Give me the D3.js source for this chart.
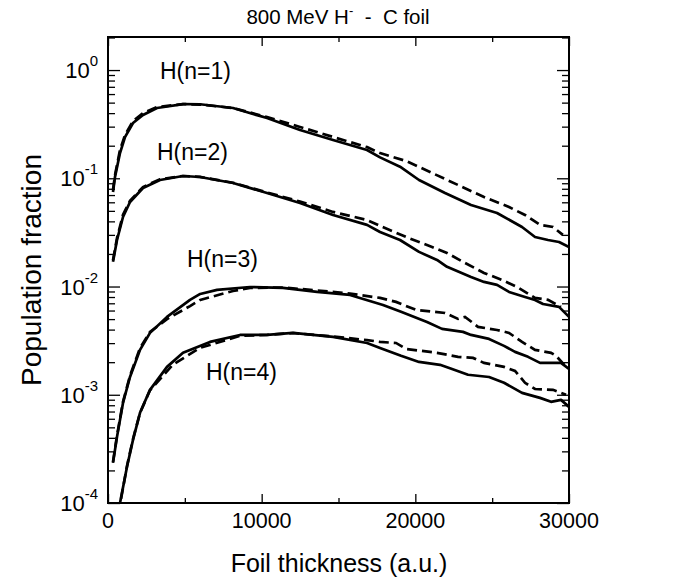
<!DOCTYPE html>
<html><head><meta charset="utf-8">
<script src="https://cdn.jsdelivr.net/npm/d3@7"></script>
<style>
body{margin:0;background:#fff;}
text{font-family:"Liberation Sans",Arial,sans-serif;fill:#000;}
</style></head>
<body><svg id="c" width="684" height="582"></svg>
<script>
// ---- data (thickness in a.u., population fraction) ----
const n1Solid = [[325,0.0747],[456,0.103],[781,0.171],[1106,0.240],[1627,0.324],[2278,0.384],[3189,0.446],[4881,0.485],[5987,0.483],[8135,0.446],[10348,0.360],[12495,0.279],[14643,0.226],[16856,0.1825],[17702,0.156],[19003,0.128],[20240,0.0964],[21932,0.0731],[23624,0.0567],[25316,0.0478],[26943,0.0355],[27789,0.0287],[28635,0.0269],[29351,0.0258],[30000,0.0232]];
const n1Dash = [[325,0.078],[456,0.107],[781,0.183],[1106,0.251],[1627,0.338],[2278,0.401],[3189,0.455],[4881,0.485],[5987,0.48],[8135,0.446],[10348,0.368],[12495,0.298],[14643,0.241],[16856,0.194],[17702,0.171],[19394,0.1445],[21086,0.112],[22778,0.0867],[24470,0.0672],[26097,0.0543],[27138,0.0458],[28114,0.0371],[28960,0.0355],[29600,0.030]];
const n2Solid = [[325,0.0169],[586,0.0269],[976,0.0439],[1432,0.0604],[2278,0.0813],[3384,0.0964],[4881,0.105],[5987,0.1028],[8135,0.0905],[10348,0.0731],[12495,0.0591],[14643,0.0458],[16856,0.0371],[17702,0.0319],[19003,0.0269],[20240,0.0209],[21411,0.0176],[22062,0.0152],[23624,0.01227],[24470,0.01103],[25316,0.01035],[26097,0.00891],[27138,0.00801],[27789,0.00752],[28310,0.0069],[29351,0.00648],[30000,0.00524]];
const n2Dash = [[325,0.0175],[586,0.028],[976,0.046],[1432,0.062],[2278,0.083],[3384,0.098],[4881,0.105],[5987,0.103],[8135,0.091],[10348,0.074],[12495,0.061],[14643,0.0489],[16856,0.0412],[17702,0.0363],[19394,0.0287],[21086,0.0232],[22062,0.0204],[23234,0.01652],[24470,0.01335],[25642,0.0115],[26618,0.0099],[27789,0.00785],[28635,0.00752],[29481,0.00648]];
const n3Solid = [[325,0.000235],[586,0.000408],[976,0.000841],[1432,0.00146],[2083,0.0026],[2733,0.00373],[3840,0.00524],[5337,0.00752],[6000,0.00854],[7094,0.0093],[9241,0.0099],[11389,0.0097],[13602,0.00891],[15749,0.00836],[17897,0.00676],[19068,0.00584],[20760,0.00471],[21737,0.00406],[23103,0.00381],[23624,0.00357],[24796,0.00328],[25772,0.00283],[26488,0.00249],[27334,0.00224],[28115,0.00197],[29481,0.00197],[30000,0.00173]];
const n3Dash = [[325,0.00024],[586,0.00042],[976,0.00086],[1432,0.0015],[2083,0.0027],[2733,0.0038],[3840,0.0050],[5337,0.0066],[6000,0.00752],[8135,0.0091],[9241,0.0097],[11389,0.0098],[13602,0.0092],[15749,0.0086],[17702,0.00785],[18743,0.00721],[20045,0.00608],[21932,0.0057],[22778,0.00502],[23234,0.00524],[24080,0.00424],[25316,0.00397],[26097,0.00373],[26943,0.00308],[27789,0.0026],[28830,0.00244],[29156,0.00229],[29807,0.00181]];
const n4Solid = [[650,0.00008],[781,0.0001],[1237,0.000216],[1627,0.000383],[2083,0.000681],[2733,0.00111],[3840,0.00181],[4881,0.00244],[6638,0.00308],[8590,0.00357],[10348,0.00357],[12040,0.00373],[14643,0.00343],[16856,0.00301],[17702,0.00271],[19068,0.00229],[20240,0.00201],[21607,0.00189],[22388,0.00173],[23429,0.00153],[24796,0.00146],[25772,0.00129],[26943,0.00104],[28115,0.000936],[28830,0.00086],[29481,0.000897],[30000,0.000773]];
const n4Dash = [[680,0.00008],[800,0.0001],[1237,0.00022],[1627,0.00039],[2083,0.00068],[2733,0.0011],[4230,0.0019],[5987,0.00271],[8590,0.0035],[10348,0.00357],[12040,0.00372],[14643,0.00345],[16856,0.0032],[17702,0.00308],[18743,0.00301],[19394,0.00265],[21411,0.00244],[22778,0.00224],[23754,0.00219],[24470,0.00197],[25772,0.00181],[26488,0.00166],[27138,0.00129],[27789,0.00113],[28960,0.00111],[29807,0.000998]];
const curveLabels = [["H(n=1)",1],["H(n=2)",2],["H(n=3)",3],["H(n=4)",4]];
const labelPos = {1:[160,79],2:[157,160],3:[187,267],4:[206,380]};
const xMajor = [0,10000,20000,30000];
const xMinor = [5000,15000,25000];
const yExp = [-4,-3,-2,-1,0];

const svg = d3.select("#c");
const x = d3.scaleLinear().domain([0,30000]).range([108,569]);
const y = d3.scaleLog().domain([1e-4,2.02]).range([503,37]);

svg.append("defs").append("clipPath").attr("id","clip")
  .append("rect").attr("x",108).attr("y",37).attr("width",461).attr("height",466);

// minor log ticks
const yMinor=[];
yExp.forEach(e=>{for(let k=2;k<=9;k++){const v=k*Math.pow(10,e); if(v<=2.02) yMinor.push(v);}});
const yMaj = yExp.map(e=>Math.pow(10,e));

function styleAxis(g){g.select(".domain").remove(); g.selectAll("line").attr("stroke","#000").attr("stroke-width",1.3);}

svg.append("g").attr("transform","translate(108,0)").call(d3.axisLeft(y).tickValues(yMaj).tickSize(-12).tickFormat("")).call(styleAxis);
svg.append("g").attr("transform","translate(108,0)").call(d3.axisLeft(y).tickValues(yMinor).tickSize(-7).tickFormat("")).call(styleAxis);
svg.append("g").attr("transform","translate(569,0)").call(d3.axisRight(y).tickValues(yMaj).tickSize(-12).tickFormat("")).call(styleAxis);
svg.append("g").attr("transform","translate(569,0)").call(d3.axisRight(y).tickValues(yMinor).tickSize(-7).tickFormat("")).call(styleAxis);
svg.append("g").attr("transform","translate(0,503)").call(d3.axisBottom(x).tickValues(xMajor).tickSize(-9).tickFormat("")).call(styleAxis);
svg.append("g").attr("transform","translate(0,503)").call(d3.axisBottom(x).tickValues(xMinor).tickSize(-5).tickFormat("")).call(styleAxis);
svg.append("g").attr("transform","translate(0,37)").call(d3.axisTop(x).tickValues(xMajor).tickSize(-9).tickFormat("")).call(styleAxis);
svg.append("g").attr("transform","translate(0,37)").call(d3.axisTop(x).tickValues(xMinor).tickSize(-5).tickFormat("")).call(styleAxis);

// frame
svg.append("rect").attr("x",108).attr("y",37).attr("width",461).attr("height",466)
  .attr("fill","none").attr("stroke","#000").attr("stroke-width",2);

// x tick labels
svg.selectAll(".xl").data(xMajor).enter().append("text")
  .attr("x",d=>x(d)).attr("y",528).attr("text-anchor","middle").attr("font-size",21.5).text(d=>d);

// y tick labels
yExp.forEach(e=>{
  const t = svg.append("text").attr("x",98).attr("y",y(Math.pow(10,e))+8).attr("text-anchor","end").attr("font-size",22);
  t.append("tspan").text("10");
  t.append("tspan").attr("font-size",15).attr("dy",-12).text(e===0?"0":"-"+(-e));
});

// lines
const line = d3.line().x(d=>x(d[0])).y(d=>y(d[1]));
const g = svg.append("g").attr("clip-path","url(#clip)");
[n1Solid,n2Solid,n3Solid,n4Solid].forEach(s=>g.append("path").attr("d",line(s)).attr("fill","none").attr("stroke","#000").attr("stroke-width",2.7).attr("stroke-linejoin","round"));
[n1Dash,n2Dash,n3Dash,n4Dash].forEach(s=>g.append("path").attr("d",line(s)).attr("fill","none").attr("stroke","#000").attr("stroke-width",2.7).attr("stroke-dasharray","10,5"));

// curve labels
curveLabels.forEach(([txt,n])=>{
  svg.append("text").attr("x",labelPos[n][0]).attr("y",labelPos[n][1]).attr("font-size",23).text(txt);
});

// title
const tt = svg.append("text").attr("x",338).attr("y",24).attr("text-anchor","middle").attr("font-size",20.5).style("white-space","pre");
tt.append("tspan").text("800 MeV H");
tt.append("tspan").attr("font-size",13).attr("dy",-9).text("-");
tt.append("tspan").attr("dy",9).text("  -  C foil");

// axis titles
svg.append("text").attr("x",339).attr("y",572).attr("text-anchor","middle").attr("font-size",25).text("Foil thickness (a.u.)");
svg.append("text").attr("transform","translate(41,270) rotate(-90)").attr("text-anchor","middle").attr("font-size",28).text("Population fraction");
</script></body></html>
